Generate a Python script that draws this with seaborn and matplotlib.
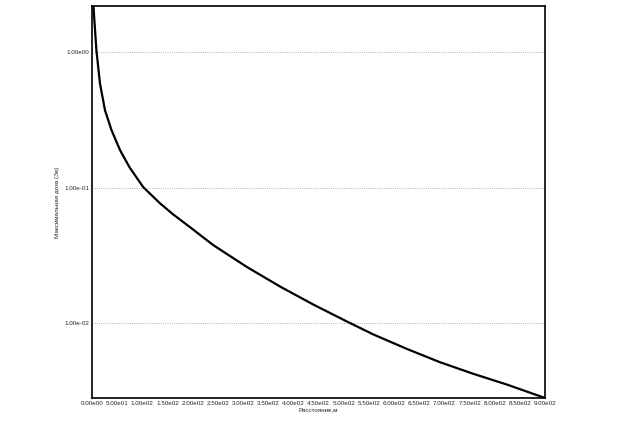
import seaborn as sns
import pandas as pd
import matplotlib.pyplot as plt
import matplotlib.ticker as mticker
from matplotlib import font_manager

# values
distance = [3, 9, 16, 26, 39, 56, 75, 102, 135, 161, 195, 241, 307, 374, 440,
            506, 558, 626, 691, 757, 824, 900]
dose = [2.2, 1.03, 0.59, 0.373, 0.266, 0.189, 0.141, 0.101, 0.0769, 0.0637, 0.0511,
        0.0377, 0.0261, 0.0186, 0.0137, 0.0103, 0.00828, 0.00644, 0.00515, 0.00423,
        0.00352, 0.0028]
x_ticks = list(range(0, 901, 50))
x_tick_labels = ['0.00e00', '5.00e01', '1.00e02', '1.50e02', '2.00e02', '2.50e02',
                 '3.00e02', '3.50e02', '4.00e02', '4.50e02', '5.00e02', '5.50e02',
                 '6.00e02', '6.50e02', '7.00e02', '7.50e02', '8.00e02', '8.50e02', '9.00e02']
y_ticks = [1.0, 0.1, 0.01]
y_tick_labels = ['1.00e00', '1.00e-01', '1.00e-02']

df = pd.DataFrame({'distance': distance, 'dose': dose})

sns.set_style('white')
try:
    font_manager.findfont('Liberation Sans Narrow', fallback_to_default=False)
    fam = 'Liberation Sans Narrow'
except Exception:
    fam = 'Liberation Sans'
plt.rcParams['font.family'] = [fam, 'DejaVu Sans']

fig = plt.figure(figsize=(6.21, 4.28), dpi=100)
ax = fig.add_axes([0.148, 0.070, 0.730, 0.916])
sns.lineplot(data=df, x='distance', y='dose', color='black', linewidth=1.6, ax=ax)

ax.set_yscale('log')
ax.set_xlim(0, 900)
ax.set_ylim(0.0028, 2.2)
ax.set_xticks(x_ticks)
ax.set_xticklabels(x_tick_labels)
ax.yaxis.set_major_locator(mticker.FixedLocator(y_ticks))
ax.yaxis.set_minor_locator(mticker.NullLocator())
ax.set_yticklabels(y_tick_labels)
ax.tick_params(axis='both', length=0, labelsize=4.5, pad=2)

ax.grid(axis='y', which='major', linestyle=':', color='#999999', linewidth=0.6)

for s in ax.spines.values():
    s.set_color('black')
    s.set_linewidth(1.2)

ax.set_xlabel('Расстояние,м', fontsize=4.5, labelpad=1)
ax.set_ylabel('Максимальная доза (Зв)', fontsize=4.5, labelpad=3)

fig.savefig('out.png', dpi=100)
